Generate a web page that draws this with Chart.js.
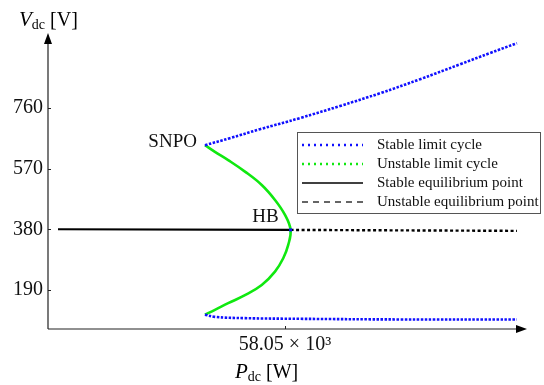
<!DOCTYPE html>
<html>
<head>
<meta charset="utf-8">
<script src="https://cdn.jsdelivr.net/npm/chart.js@4.4.0/dist/chart.umd.min.js"></script>
<style>
  html, body { margin: 0; padding: 0; background: #fff; }
  #wrap { width: 544px; height: 385px; }
</style>
</head>
<body>
<div id="wrap"><canvas id="bifChart" width="544" height="385"></canvas></div>
<script>
// --- Data (P in kW, V in volts) ---
const stableCycleUpperP = [55.33, 56.18, 57.20, 58.56, 59.92, 61.28, 62.64, 64.00, 65.01, 65.93];
const stableCycleUpperV = [644, 666, 694, 729, 767, 807, 851, 898, 933, 964];
const stableCycleLowerP = [55.33, 55.67, 56.69, 58.56, 61.96, 65.93];
const stableCycleLowerV = [112, 105, 101, 99, 97, 97];
const unstableCycleP = [55.33, 55.67, 56.12, 56.69, 57.26, 57.71, 58.05, 58.24,
                        58.16, 57.99, 57.71, 57.26, 56.69, 56.12, 55.67, 55.33];
const unstableCycleV = [644, 623, 597, 561, 519, 472, 425, 378,
                        331, 289, 247, 205, 173, 148, 127, 112];
const stableEqP = [50.34, 58.24];
const stableEqV = [380, 378];
const unstableEqP = [58.24, 65.93];
const unstableEqV = [378, 375];
const yTicks = [190, 380, 570, 760];
const xTicks = [58.05];
const xTickLabels = ['58.05 × 10³'];
const legendLabels = ['Stable limit cycle', 'Unstable limit cycle', 'Stable equilibrium point', 'Unstable equilibrium point'];

const SERIF = "'Liberation Serif', 'Times New Roman', serif";
const BLUE = '#1010ff';
const GREEN = '#10e810';
const AXIS = '#222';

function toPoints(xs, ys) {
  return xs.map(function (x, i) { return { x: x, y: ys[i] }; });
}

// --- Axes with arrows, inward ticks, titles ---
const axesPlugin = {
  id: 'arrowAxes',
  afterDraw: function (chart) {
    const c = chart.ctx;
    const a = chart.chartArea;
    const xs = chart.scales.x, ys = chart.scales.y;
    c.save();
    c.strokeStyle = AXIS;
    c.fillStyle = '#000';
    c.lineWidth = 1.2;
    c.beginPath();
    c.moveTo(a.left, a.bottom); c.lineTo(a.left, a.top + 6);
    c.moveTo(a.left, a.bottom); c.lineTo(a.right - 6, a.bottom);
    c.stroke();
    // arrow heads
    c.beginPath();
    c.moveTo(a.left, a.top); c.lineTo(a.left - 4, a.top + 11); c.lineTo(a.left + 4, a.top + 11); c.closePath();
    c.fill();
    c.beginPath();
    c.moveTo(a.right, a.bottom); c.lineTo(a.right - 11, a.bottom - 4); c.lineTo(a.right - 11, a.bottom + 4); c.closePath();
    c.fill();
    // tick marks
    c.lineWidth = 1;
    c.beginPath();
    yTicks.forEach(function (v) {
      const py = Math.round(ys.getPixelForValue(v)) + 0.5;
      c.moveTo(a.left, py); c.lineTo(a.left + 3, py);
    });
    xTicks.forEach(function (v) {
      const px = Math.round(xs.getPixelForValue(v)) + 0.5;
      c.moveTo(px, a.bottom); c.lineTo(px, a.bottom - 3);
    });
    c.stroke();

    // axis titles with subscripts
    function title(x, y, main, sub, rest) {
      c.textAlign = 'left';
      c.textBaseline = 'alphabetic';
      c.font = 'italic 21px ' + SERIF;
      c.fillText(main, x, y);
      let px = x + c.measureText(main).width;
      c.font = '14px ' + SERIF;
      c.fillText(sub, px, y + 3);
      px += c.measureText(sub).width;
      c.font = '20px ' + SERIF;
      c.fillText(rest, px, y);
    }
    title(19, 26, 'V', 'dc', ' [V]');
    title(235, 378, 'P', 'dc', ' [W]');
    c.restore();
  }
};

// --- Point labels, HB marker and the legend box ---
const overlayPlugin = {
  id: 'overlay',
  afterDraw: function (chart) {
    const c = chart.ctx;
    const xs = chart.scales.x, ys = chart.scales.y;
    c.save();
    const hbX = xs.getPixelForValue(stableEqP[1]);
    const hbY = ys.getPixelForValue(stableEqV[1]);
    c.fillStyle = BLUE;
    c.fillRect(hbX - 1.5, hbY - 1.5, 3, 3);

    c.fillStyle = '#111';
    c.font = '19px ' + SERIF;
    c.textBaseline = 'alphabetic';
    c.textAlign = 'right';
    c.fillText('SNPO', xs.getPixelForValue(stableCycleUpperP[0]) - 8, ys.getPixelForValue(stableCycleUpperV[0]) + 2);
    c.fillText('HB', hbX - 12, hbY - 8);

    // legend
    const bx = 297.5, by = 132.5, bw = 243, bh = 81;
    c.fillStyle = '#fff';
    c.fillRect(bx, by, bw, bh);
    c.strokeStyle = '#555';
    c.lineWidth = 1;
    c.strokeRect(bx, by, bw, bh);
    const rows = [145, 164, 183, 202];
    const styles = [
      { color: BLUE, dash: [2, 4], width: 2.5 },
      { color: GREEN, dash: [2, 4], width: 2.5 },
      { color: '#000', dash: [], width: 1.3 },
      { color: '#333', dash: [6, 5], width: 1.3 }
    ];
    rows.forEach(function (ry, i) {
      const s = styles[i];
      c.strokeStyle = s.color;
      c.lineWidth = s.width;
      c.setLineDash(s.dash);
      c.beginPath();
      c.moveTo(302, ry); c.lineTo(363, ry);
      c.stroke();
      c.setLineDash([]);
      c.fillStyle = '#111';
      c.font = '15px ' + SERIF;
      c.textAlign = 'left';
      c.textBaseline = 'middle';
      c.fillText(legendLabels[i], 377, ry);
    });
    c.restore();
  }
};

const ctx = document.getElementById('bifChart');
new Chart(ctx, {
  type: 'line',
  data: {
    datasets: [
      {
        label: 'Stable limit cycle',
        data: toPoints(stableCycleUpperP, stableCycleUpperV),
        borderColor: BLUE, borderWidth: 2.6, borderDash: [2.5, 1.5],
        tension: 0.4, pointRadius: 0, fill: false
      },
      {
        label: 'Stable limit cycle (lower)',
        data: toPoints(stableCycleLowerP, stableCycleLowerV),
        borderColor: BLUE, borderWidth: 2.6, borderDash: [2.5, 1.5],
        tension: 0.4, pointRadius: 0, fill: false
      },
      {
        label: 'Unstable limit cycle',
        data: toPoints(unstableCycleP, unstableCycleV),
        borderColor: GREEN, borderWidth: 2.6,
        tension: 0.4, pointRadius: 0, fill: false
      },
      {
        label: 'Stable equilibrium point',
        data: toPoints(stableEqP, stableEqV),
        borderColor: '#000', borderWidth: 2.2,
        pointRadius: 0, fill: false
      },
      {
        label: 'Unstable equilibrium point',
        data: toPoints(unstableEqP, unstableEqV),
        borderColor: '#000', borderWidth: 2.4, borderDash: [3, 2.5],
        pointRadius: 0, fill: false
      }
    ]
  },
  options: {
    responsive: false,
    animation: false,
    events: [],
    layout: { padding: { top: 33, right: 17, left: 0, bottom: 0 } },
    plugins: { legend: { display: false }, tooltip: { enabled: false } },
    scales: {
      x: {
        type: 'linear', min: 50, max: 66.27,
        grid: { display: false, drawTicks: false },
        border: { display: false },
        afterFit: function (s) { s.height = 56; },
        afterBuildTicks: function (s) { s.ticks = xTicks.map(function (v) { return { value: v }; }); },
        ticks: {
          padding: 4, color: '#111', maxRotation: 0, autoSkip: false,
          font: { family: SERIF, size: 20 },
          callback: function (v) { return xTickLabels[xTicks.indexOf(v)]; }
        }
      },
      y: {
        type: 'linear', min: 67, max: 996,
        grid: { display: false, drawTicks: false },
        border: { display: false },
        afterFit: function (s) { s.width = 48; },
        afterBuildTicks: function (s) { s.ticks = yTicks.map(function (v) { return { value: v }; }); },
        ticks: {
          padding: 5, color: '#111', autoSkip: false,
          font: { family: SERIF, size: 20 }
        }
      }
    }
  },
  plugins: [axesPlugin, overlayPlugin]
});
</script>
</body>
</html>
